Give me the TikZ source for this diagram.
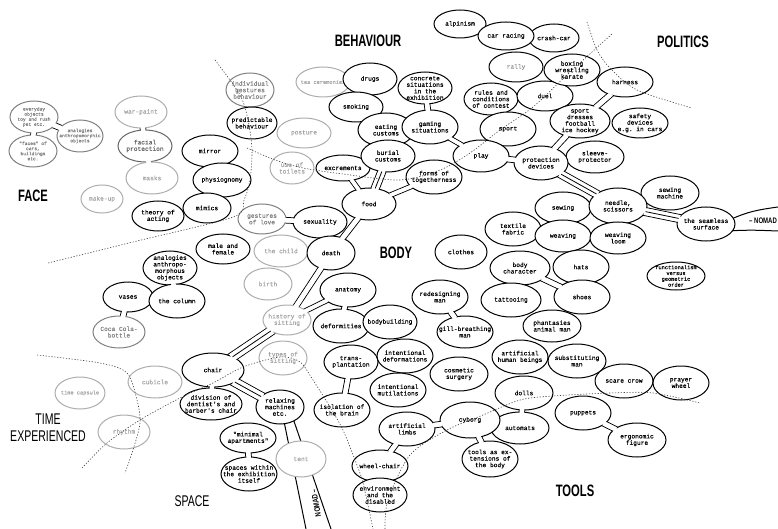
\documentclass[tikz,border=0pt]{standalone}
\usepackage{fontspec}
\usepackage{graphicx}
\setmainfont{Liberation Serif}
\setsansfont{Liberation Sans}
\setmonofont{Liberation Mono}[FakeBold=0.25]
\usetikzlibrary{shapes.geometric}
\pgfdeclarelayer{bg}\pgfdeclarelayer{fg}\pgfsetlayers{bg,main,fg}
\tikzset{
 cell/.style={ellipse, draw=black, fill=white, line width=1pt, inner sep=0pt, outer sep=0pt},
 celltext/.style={font=\ttfamily\fontsize{6.2}{6.5}\selectfont, align=center, inner sep=0pt},
 fsm/.style={font=\ttfamily\fontsize{4.6}{5.1}\selectfont},
 fmd/.style={font=\ttfamily\fontsize{5.3}{5.8}\selectfont},
 fade1/.style={draw=black!60, text=black!60},
 fade2/.style={draw=black!50, text=black!50},
 fade3/.style={draw=black!32, text=black!35},
 tfade/.style={text=black!40},
 biglab/.style={font=\sffamily\bfseries\fontsize{16.5}{17}\selectfont, inner sep=0pt},
 thinlab/.style={font=\sffamily\fontsize{15.5}{17}\selectfont, inner sep=0pt, align=center},
 bndry/.style={line width=0.6pt, dash pattern=on 1.2pt off 1.7pt, black!75},
 band/.style={line width=1pt},
}
\newcommand\lab[1]{\scalebox{0.68}[1]{#1}}
\newcommand\Cell[7][]{%
 \node[cell,#1,minimum width={2*#5pt},minimum height={2*#6pt}] (#2) at (#3,#4) {};
 \node[celltext,#1,draw=none,fill=none] at (#2.center) {#7};}
\newcommand\Tube[3][4.5]{%
 \begin{pgfonlayer}{bg}\draw[line width=1pt, double=white, double distance=#1pt] (#2.center) -- (#3.center);\end{pgfonlayer}
 \begin{pgfonlayer}{fg}\draw[white, line width=#1pt, shorten <=-1.4pt, shorten >=-1.4pt] (#2) -- (#3);\end{pgfonlayer}}
\newcommand\Bundle[3][7]{\Tube[#1]{#2}{#3}%
 \begin{pgfonlayer}{fg}\draw[line width=0.8pt] (#2) -- (#3);\end{pgfonlayer}}
\begin{document}
\begin{tikzpicture}[x=1pt,y=-1pt]
\useasboundingbox (0,0) rectangle (778,529);
% ---------------- FACE
\Cell[fade2,fsm]{every}{34}{117}{24}{16}{everyday\\objects\\toy and rush\\pet etc.}
\Cell[fade2,fsm]{anthobj}{80}{136}{23}{16}{analogies\\anthropomorphic\\objects}
\Cell[fade2,fsm]{faces}{33}{151}{24}{16}{"faces" of\\cars,\\buildings\\etc.}
\Cell[fade3]{warpaint}{141}{112}{26}{16}{war-paint}
\Cell[fade1]{facial}{145}{146}{27}{16}{facial\\protection}
\Cell[fade3]{masks}{152}{178}{26}{16}{masks}
\Cell[fade3]{makeup}{102}{199}{21}{14}{make-up}
\Cell{mirror}{210}{151}{28}{16}{mirror}
\Cell{physio}{222}{180}{29}{17}{physiognomy}
\Cell{theory}{158}{216}{26}{15}{theory of\\acting}
\Cell{mimics}{207}{208}{24}{15}{mimics}
\Cell{male}{223}{249}{27}{15}{male and\\female}
\Cell{analog}{170}{268}{27}{17}{analogies\\anthropo-\\morphous\\objects}
\Cell{vases}{128}{297}{25}{15}{vases}
\Cell{column}{177}{301}{28}{17}{the column}
\Cell[fade2]{coca}{119}{332}{26}{16}{Coca Cola-\\bottle}
% ---------------- BEHAVIOUR
\Cell[fade2]{indiv}{250}{90}{24}{17}{individual\\gestures\\behaviour}
\Cell{predict}{252}{123}{25}{16}{predictable\\behaviour}
\Cell[fade3]{posture}{304}{133}{27}{15}{posture}
\Cell[fade3]{toilets}{292}{168}{22}{16}{use of\\toilets}
\Cell{excr}{343}{168}{27}{13}{excrements}
\Cell[fade3,fmd]{tea}{323}{82}{27}{15}{tea ceremonies}
\Cell{drugs}{370}{79}{27}{16}{drugs}
\Cell{smoking}{356}{107}{27}{15}{smoking}
\Cell{eating}{386}{130}{28}{17}{eating\\customs}
\Cell{burial}{388}{156}{27}{16}{burial\\customs}
\Cell{concrete}{425}{88}{27}{16}{concrete\\situations\\in the\\exhibition}
\Cell{gaming}{430}{127}{28}{17}{gaming\\situations}
\Cell{forms}{434}{177}{28}{17}{forms of\\togetherness}
\Cell{alpin}{460}{24}{26}{14}{alpinism}
\Cell{crash}{554}{38}{25}{14}{crash-car}
\Cell{carrace}{506}{36}{28}{14}{car racing}
\Cell[tfade]{rally}{516}{67}{27}{15}{rally}
\Cell{rules}{491}{99}{27}{16}{rules and\\conditions\\of contest}
\Cell{duel}{545}{96}{28}{15}{duel}
\Cell{boxing}{572}{70}{28}{16}{boxing\\wrestling\\karate}
\Cell{sport}{508}{129}{28}{17}{sport}
\Cell{play}{481}{156}{28}{16}{play}
\Cell{harness}{625}{82}{28}{15}{harness}
\Cell{sportdr}{580}{121}{30}{17}{sport\\dresses\\football\\ice hockey}
\Cell{safety}{640}{123}{28}{15}{safety\\devices\\e.g. in cars}
\Cell{sleeve}{595}{157}{29}{16}{sleeve-\\protector}
\Cell{protect}{541}{163}{27}{17}{protection\\devices}
% ---------------- BODY
\Cell{food}{369}{204}{27}{16}{food}
\Cell[fade2]{love}{262}{219}{24}{15}{gestures\\of love}
\Cell{sexual}{320}{222}{27}{16}{sexuality}
\Cell[fade3]{child}{281}{251}{27}{16}{the child}
\Cell{death}{331}{253}{24}{17}{death}
\Cell[fade3]{birth}{268}{284}{24}{16}{birth}
\Cell{clothes}{461}{252}{26}{17}{clothes}
\Cell{textile}{513}{229}{28}{17}{textile\\fabric}
\Cell{bodych}{520}{268}{30}{17}{body\\character}
\Cell{tattoo}{511}{300}{30}{17}{tattooing}
\Cell{sewing}{563}{208}{28}{16}{sewing}
\Cell{weaving}{563}{236}{28}{16}{weaving}
\Cell{sewmach}{670}{193}{29}{17}{sewing\\machine}
\Cell{needle}{618}{206}{29}{18}{needle,\\scissors}
\Cell{loom}{618}{238}{28}{16}{weaving\\loom}
\Cell{seam}{706}{224}{29}{17}{the seamless\\surface}
\Cell{hats}{581}{267}{28}{17}{hats}
\Cell{shoes}{582}{297}{28}{17}{shoes}
\Cell[fmd]{func}{676}{276}{29}{14}{functionalism\\versus\\geometric\\order}
\Cell{redesign}{440}{297}{28}{17}{redesigning\\man}
\Cell{gill}{465}{332}{28}{16}{gill-breathing\\man}
\Cell[fade3]{histsit}{287}{320}{24}{15}{history of\\sitting}
\Cell{anatomy}{348}{290}{28}{17}{anatomy}
\Cell{deform}{341}{326}{28}{17}{deformities}
\Cell{bodyb}{390}{322}{27}{17}{bodybuilding}
\Cell{transpl}{351}{362}{27}{17}{trans-\\plantation}
\Cell{intdef}{405}{356}{28}{17}{intentional\\deformations}
\Cell{intmut}{398}{390}{28}{17}{intentional\\mutilations}
\Cell{cosmetic}{459}{374}{29}{17}{cosmetic\\surgery}
\Cell{isol}{342}{410}{28}{17}{isolation of\\the brain}
% ---------------- TOOLS
\Cell{phant}{552}{326}{29}{16}{phantasies\\animal man}
\Cell{arthum}{520}{357}{28}{17}{artificial\\human beings}
\Cell{subst}{577}{361}{29}{17}{substituting\\man}
\Cell{scare}{624}{381}{29}{17}{scare crow}
\Cell{prayer}{681}{383}{28}{17}{prayer\\wheel}
\Cell{automats}{520}{428}{29}{16}{automats}
\Cell{dolls}{524}{393}{29}{17}{dolls}
\Cell{puppets}{583}{413}{28}{17}{puppets}
\Cell{ergo}{637}{440}{29}{17}{ergonomic\\figure}
\Cell{cyborg}{470}{420}{30}{18}{cyborg}
\Cell{tools}{490}{459}{28}{18}{tools as ex-\\tensions of\\the body}
\Cell{limbs}{407}{429}{28}{17}{artificial\\limbs}
\Cell{wheel}{380}{466}{28}{16}{wheel-chair}
\Cell{envir}{380}{495}{27}{17}{environment\\and the\\disabled}
% ---------------- SPACE / TIME
\Cell[fade3]{sitkind}{283}{358}{24}{17}{types of\\sitting}
\Cell{chair}{213}{370}{31}{17}{chair}
\Cell{division}{211}{404}{31}{16}{division of\\dentist's and\\barber's chair}
\Cell{rema}{280}{407}{24}{17}{relaxing\\machines\\etc.}
\Cell{minimal}{248}{438}{28}{15}{"minimal\\apartments"}
\Cell{spaces}{249}{474}{28}{17}{spaces within\\the exhibition\\itself}
\Cell[fade3]{tent}{301}{459}{25}{18}{tent}
\Cell[fade3]{cubicle}{155}{382}{27}{16}{cubicle}
\Cell[fade3,fmd]{timecap}{80}{393}{25}{16}{time capsule}
\Cell[fade3]{rhythm}{124}{432}{26}{17}{rhythm}
% ---------------- tubes and necks
\Tube{every}{faces}
\Tube{every}{anthobj}
\Tube{warpaint}{facial}
\Tube{facial}{masks}
\Tube{vases}{coca}
\Tube{column}{analog}
\Tube{concrete}{gaming}
\Tube[3.5]{gaming}{play}
\Tube{play}{protect}
\Bundle{burial}{food}
\Tube[3.5]{forms}{food}
\Tube[3.5]{excr}{food}
\Tube{food}{death}
\Tube{death}{histsit}
\Tube[3.5]{histsit}{anatomy}
\Bundle[8]{histsit}{chair}
\Bundle[8]{chair}{rema}
\Tube{chair}{division}
\Tube{minimal}{spaces}
\Tube{anatomy}{deform}
\Tube{transpl}{isol}
\Tube{limbs}{wheel}
\Tube{limbs}{cyborg}
\Tube{cyborg}{tools}
\Tube{puppets}{ergo}
\Tube{redesign}{gill}
\Tube{bodych}{shoes}
\Bundle{protect}{needle}
\Bundle{needle}{seam}
\Tube{sportdr}{protect}
\Tube{harness}{sportdr}
\Tube{love}{sexual}
\Tube{dolls}{automats}
% NOMAD bands
\coordinate (nb1) at (306,529);
\coordinate (nb2) at (331,529);
\begin{pgfonlayer}{bg}
\draw[band] (rema.-75) -- (nb1);
\draw[band] (rema.-45) -- (nb2);
\end{pgfonlayer}
\coordinate (nr1) at (778,207);
\coordinate (nr2) at (778,231);
\draw[band] (seam.12) .. controls (748,212) and (756,210) .. (nr1);
\draw[band] (seam.-14) .. controls (752,230) .. (nr2);
\node[font=\sffamily\bfseries\fontsize{8}{8}\selectfont, inner sep=0pt] (nomadR) at (763,221) {\scalebox{0.75}[1]{-- NOMAD}};
\node[font=\sffamily\bfseries\fontsize{8}{8}\selectfont, inner sep=0pt, rotate=100] (nomadB) at (316,503) {\scalebox{0.75}[1]{NOMAD --}};
% ---------------- labels
\node[biglab] (lbeh) at (368,41) {\lab{BEHAVIOUR}};
\node[biglab] (lpol) at (683,42) {\lab{POLITICS}};
\node[biglab] (lface) at (33,196) {\lab{FACE}};
\node[biglab] (lbody) at (396,253) {\lab{BODY}};
\node[biglab] (ltools) at (575,491) {\lab{TOOLS}};
\node[thinlab] (ltime) at (48,428) {\lab{TIME}\\\lab{EXPERIENCED}};
\node[thinlab] (lspace) at (192,501) {\lab{SPACE}};
% ---------------- boundary lines
\begin{pgfonlayer}{fg}
\draw[bndry] plot[smooth] coordinates {(215,60) (240,95) (248,120) (252,150) (250,180) (244,200) (233,217) (133,242) (48,263)};
\draw[bndry] plot[smooth] coordinates {(247,148) (275,160) (303,168) (343,174) (400,180) (440,170) (470,153) (500,130) (533,107) (570,72) (613,33)};
\draw[bndry] plot[smooth] coordinates {(587,22) (597,50) (610,68) (637,90) (692,108)};
\draw[bndry] plot[smooth] coordinates {(37,355) (100,363) (127,373) (137,400) (140,423) (133,450) (125,473)};
\draw[bndry] plot[smooth] coordinates {(82,468) (107,443) (140,420) (180,398) (213,383) (243,367) (280,357) (300,362) (313,380) (330,407) (343,430) (355,460) (363,483) (373,529)};
\draw[bndry] plot[smooth] coordinates {(385,529) (388,500) (410,455) (447,430) (483,415) (520,400) (553,396) (610,393) (653,393) (700,403)};
\end{pgfonlayer}
\end{tikzpicture}
\end{document}
